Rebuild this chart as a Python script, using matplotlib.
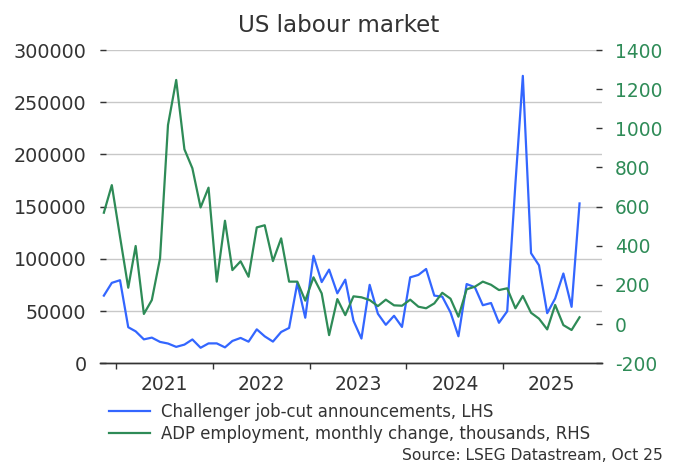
import matplotlib
matplotlib.use("Agg")
import matplotlib.pyplot as plt
import pandas as pd

plt.rcParams['font.family'] = ['DejaVu Sans']

dates = pd.date_range("2020-11-01", periods=60, freq="MS") + pd.Timedelta(days=14)

challenger = [64797, 77030,
              79552, 34531, 30603, 22913, 24586, 20476, 18942, 15723, 17895, 22822, 14875, 19052,
              19064, 15245, 21387, 24286, 20712, 32517, 25810, 20781, 29989, 33843, 76835, 43651,
              102943, 77770, 89703, 66995, 80089, 40709, 23697, 75151, 47457, 36836, 45510, 34817,
              82307, 84638, 90309, 64789, 63816, 48786, 25885, 75891, 72821, 55597, 57727, 38792,
              49795, 172017, 275240, 105441, 93816, 47999, 62075, 85979, 54064, 153074]

adp = [569, 710,
       446, 186, 399, 52, 123, 336, 1017, 1247, 893, 796, 596, 697,
       217, 528, 276, 321, 242, 494, 505, 322, 438, 217, 217, 120,
       239, 157, -56, 128, 46, 142, 137, 123, 92, 125, 96, 94,
       125, 89, 81, 106, 160, 130, 38, 178, 191, 217, 201, 174,
       183, 81, 144, 58, 28, -27, 98, -5, -30, 35]

years = [2021, 2022, 2023, 2024, 2025]
left_ticks = [0, 50000, 100000, 150000, 200000, 250000, 300000]
right_ticks = [-200, 0, 200, 400, 600, 800, 1000, 1200, 1400]

title = "US labour market"
label_blue = "Challenger job-cut announcements, LHS"
label_green = "ADP employment, monthly change, thousands, RHS"
source = "Source: LSEG Datastream, Oct 25"

BLUE = "#3366ff"
GREEN = "#2e8b57"
TXT = "#333333"

fig = plt.figure(figsize=(6.8, 4.66), dpi=100)
ax = fig.add_axes([0.1465, 0.2204, 0.7385, 0.6723])
ax2 = ax.twinx()

l1, = ax.plot(dates, challenger, color=BLUE, lw=1.6, zorder=3)
l2, = ax2.plot(dates, adp, color=GREEN, lw=1.6, zorder=3)

ax.set_ylim(0, 300000)
ax2.set_ylim(-200, 1400)
ax.set_xlim(pd.Timestamp("2020-10-30"), pd.Timestamp("2026-01-07"))

ax.set_yticks(left_ticks)
ax.set_yticklabels([str(v) for v in left_ticks])
ax2.set_yticks(right_ticks)
ax2.set_yticklabels([str(v) for v in right_ticks])

ax.grid(axis='y', color='#c8c8c8', lw=1.0, zorder=0)
ax.set_axisbelow(True)

for a in (ax, ax2):
    for s in ('top', 'left', 'right'):
        a.spines[s].set_visible(False)
    a.spines['bottom'].set_color(TXT)
    a.spines['bottom'].set_linewidth(1.0)

ax.tick_params(axis='y', direction='in', length=4, width=1, color=TXT,
               labelcolor=TXT, labelsize=13.8, pad=9.5)
ax2.tick_params(axis='y', direction='in', length=4, width=1, color=TXT,
                labelcolor=GREEN, labelsize=13.4, pad=9.5)

# major ticks at year starts (no labels), minor at mid-year with labels
ax.set_xticks([pd.Timestamp(f"{y}-01-01") for y in years])
ax.set_xticklabels([])
ax.set_xticks([pd.Timestamp(f"{y}-07-02") for y in years], minor=True)
ax.set_xticklabels([str(y) for y in years], minor=True)
ax.tick_params(axis='x', which='major', direction='out', length=4, width=1, color=TXT)
ax.tick_params(axis='x', which='minor', length=0, labelsize=13.4, labelcolor=TXT, pad=8.5)

fig.text(339 / 680, 1 - 25 / 466, title, ha='center', va='center', fontsize=16.6, color=TXT)

fig.legend([l1, l2], [label_blue, label_green], loc='upper left',
           bbox_to_anchor=(109 / 680, 1 - 403 / 466), frameon=False, fontsize=11.9,
           handlelength=2.5, handletextpad=0.65, labelspacing=0.25,
           borderaxespad=0, borderpad=0, labelcolor=TXT)

fig.text(663 / 680, 1 - 456 / 466, source, ha='right', va='center', fontsize=11.2, color=TXT)

fig.savefig("out.png", dpi=100)
